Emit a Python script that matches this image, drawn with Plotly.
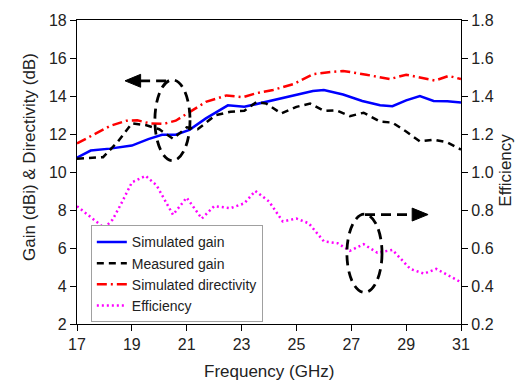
import plotly.graph_objects as go

# ---- data ----
sim_gain_f = [17.0, 17.5, 18.2, 19.0, 19.6, 20.1, 20.6, 21.1, 21.7, 22.5, 23.1, 23.7, 24.4, 25.1, 25.6, 26.0,
              26.7, 27.4, 28.05, 28.5, 29.0, 29.5, 30.0, 30.5, 31.0]
sim_gain = [10.75, 11.13, 11.23, 11.39, 11.73, 11.96, 11.96, 12.22, 12.82, 13.51, 13.43, 13.63, 13.89, 14.12,
            14.26, 14.32, 14.08, 13.74, 13.51, 13.46, 13.77, 14.0, 13.74, 13.72, 13.66]

meas_gain_f = [17.0, 17.95, 18.5, 19.0, 19.5, 20.0, 20.5, 21.0, 21.4, 22.05, 22.6, 23.1, 23.55, 23.9, 24.45,
               25.0, 25.5, 26.0, 26.45, 26.95, 27.45, 28.05, 28.5, 29.0, 29.5, 30.0, 30.5, 31.0]
meas_gain = [10.70, 10.78, 11.61, 12.56, 12.47, 12.25, 11.75, 12.35, 12.25, 12.99, 13.17, 13.22, 13.69, 13.6,
             13.08, 13.43, 13.6, 13.22, 13.25, 12.94, 13.12, 12.65, 12.6, 12.13, 11.61, 11.70, 11.56, 11.18]

sim_dir_f = [17.0, 17.6, 18.2, 18.8, 19.2, 19.65, 20.15, 20.6, 21.1, 21.7, 22.45, 23.05, 23.55, 24.15, 24.9,
             25.6, 26.1, 26.7, 27.55, 28.4, 29.0, 29.6, 30.05, 30.55, 31.0]
sim_dir = [11.5, 11.96, 12.42, 12.70, 12.72, 12.56, 12.53, 12.70, 13.17, 13.69, 14.03, 13.94, 14.15, 14.32,
           14.63, 15.15, 15.24, 15.32, 15.12, 14.89, 15.12, 14.94, 14.81, 15.06, 14.89]

eff_f = [17.0, 17.5, 18.0, 18.3, 18.6, 19.0, 19.5, 19.9, 20.5, 21.0, 21.55, 22.0, 22.6, 23.1, 23.5, 24.0,
         24.5, 25.0, 25.45, 26.0, 26.5, 26.95, 27.45, 27.95, 28.5, 29.15, 29.65, 30.1, 31.0]
eff = [0.82, 0.765, 0.705, 0.75, 0.83, 0.945, 0.98, 0.93, 0.775, 0.865, 0.755, 0.82, 0.81, 0.835, 0.90, 0.845,
       0.74, 0.755, 0.73, 0.635, 0.625, 0.585, 0.62, 0.575, 0.59, 0.49, 0.465, 0.49, 0.42]

x_ticks = [17, 19, 21, 23, 25, 27, 29, 31]
y_ticks = [2, 4, 6, 8, 10, 12, 14, 16, 18]
y2_ticks = [0.2, 0.4, 0.6, 0.8, 1.0, 1.2, 1.4, 1.6, 1.8]

FONT = "Arial, Liberation Sans, sans-serif"

fig = go.Figure()
fig.add_trace(go.Scatter(x=sim_gain_f, y=sim_gain, mode="lines", name="Simulated gain",
                         line=dict(color="#0000FF", width=2.5)))
fig.add_trace(go.Scatter(x=meas_gain_f, y=meas_gain, mode="lines", name="Measured gain",
                         line=dict(color="#000000", width=2.5, dash="7px,5px")))
fig.add_trace(go.Scatter(x=sim_dir_f, y=sim_dir, mode="lines", name="Simulated directivity",
                         line=dict(color="#FF0000", width=2.5, dash="10px,4px,2px,4px")))
fig.add_trace(go.Scatter(x=eff_f, y=eff, mode="lines", name="Efficiency", yaxis="y2",
                         line=dict(color="#FF00FF", width=2.5, dash="2px,3px")))

axis_common = dict(showgrid=False, zeroline=False, showline=True, linecolor="black", linewidth=1.2,
                   ticks="outside", ticklen=6, tickwidth=1.2, tickcolor="black",
                   tickfont=dict(family=FONT, size=16, color="#222222"))

fig.update_layout(
    width=517, height=383,
    margin=dict(l=77, r=56, t=15, b=59),
    plot_bgcolor="white", paper_bgcolor="white",
    font=dict(family=FONT, size=16, color="#222222"),
    xaxis=dict(range=[17, 31], tickvals=x_ticks, mirror=True, **axis_common),
    yaxis=dict(range=[2, 18], tickvals=y_ticks, **axis_common),
    yaxis2=dict(range=[0.2, 1.8], tickvals=y2_ticks, tickformat=".1f", overlaying="y", side="right",
                **axis_common),
    legend=dict(x=0.036, y=0.165, xanchor="left", yanchor="middle", bgcolor="white",
                bordercolor="#A0A0A0", borderwidth=1, font=dict(family=FONT, size=14, color="#222222"),
                tracegroupgap=0, itemwidth=30),
    showlegend=True,
)

# axis titles
fig.add_annotation(text="Gain (dBi) & Directivity (dB)", xref="paper", yref="paper", x=-0.122, y=0.55,
                   textangle=-90, showarrow=False, font=dict(size=17), xanchor="center", yanchor="middle")
fig.add_annotation(text="Efficiency", xref="paper", yref="paper", x=1.115, y=0.505,
                   textangle=-90, showarrow=False, font=dict(size=17), xanchor="center", yanchor="middle")
fig.add_annotation(text="Frequency (GHz)", xref="paper", yref="paper", x=0.5, y=-0.155,
                   showarrow=False, font=dict(size=17), xanchor="center", yanchor="middle")

# ellipses and arrows (decorations)
dash_style = dict(color="black", width=2.8, dash="10px,6px")
fig.add_shape(type="circle", xref="x", yref="y", x0=19.84, x1=21.12, y0=10.6, y1=14.85, line=dash_style)
fig.add_shape(type="line", xref="x", yref="y", x0=19.3, x1=20.45, y0=14.8, y1=14.8, line=dash_style)
fig.add_shape(type="path", xref="x", yref="y", path="M 18.75 14.8 L 19.32 15.14 L 19.32 14.46 Z",
              fillcolor="black", line=dict(color="black", width=1))

fig.add_shape(type="circle", xref="x", yref="y", x0=26.84, x1=28.12, y0=3.66, y1=7.78, line=dash_style)
fig.add_shape(type="line", xref="x", yref="y", x0=27.5, x1=29.22, y0=7.76, y1=7.76, line=dash_style)
fig.add_shape(type="path", xref="x", yref="y", path="M 29.8 7.76 L 29.22 8.1 L 29.22 7.42 Z",
              fillcolor="black", line=dict(color="black", width=1))

fig.write_html("out.html")
